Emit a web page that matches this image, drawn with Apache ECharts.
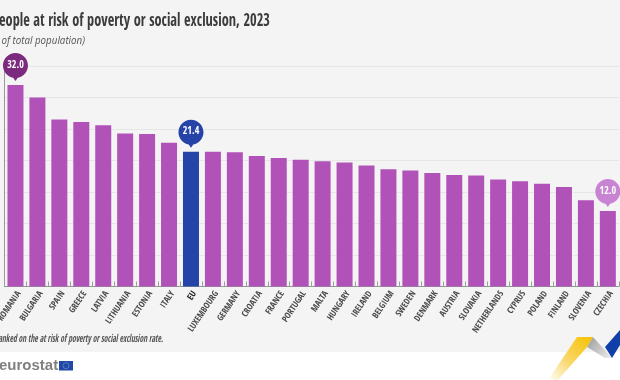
<!DOCTYPE html>
<html><head><meta charset="utf-8">
<style>html,body{margin:0;padding:0;background:#fff}#c{width:620px;height:380px}</style>
<script src="https://cdn.jsdelivr.net/npm/echarts@6/dist/echarts.min.js"></script></head>
<body><div id="c"></div>
<script>
const categories=['ROMANIA','BULGARIA','SPAIN','GREECE','LATVIA','LITHUANIA','ESTONIA','ITALY','EU','LUXEMBOURG','GERMANY','CROATIA','FRANCE','PORTUGAL','MALTA','HUNGARY','IRELAND','BELGIUM','SWEDEN','DENMARK','AUSTRIA','SLOVAKIA','NETHERLANDS','CYPRUS','POLAND','FINLAND','SLOVENIA','CZECHIA'];
const values=[32.0,30.0,26.5,26.1,25.6,24.3,24.2,22.8,21.4,21.4,21.3,20.7,20.4,20.1,19.9,19.7,19.2,18.6,18.4,18.0,17.7,17.6,17.0,16.7,16.3,15.8,13.7,12.0];
const highlightCategory='EU';
const pinned=[['ROMANIA',32.0,'#7b2a7e'],['EU',21.4,'#2644a7'],['CZECHIA',12.0,'#c883d2']];
const FN='"Open Sans Condensed","Roboto Condensed",sans-serif';
const pinPath='path://M12.5 0C5.6 0 0 5.6 0 12.5C0 18.6 4.4 23.7 10.2 24.8L12.5 28L14.8 24.8C20.6 23.7 25 18.6 25 12.5C25 5.6 19.4 0 12.5 0Z';
const chart=echarts.init(document.getElementById('c'),null,{renderer:'canvas'});
chart.setOption({
 animation:false,
 backgroundColor:'#ffffff',
 textStyle:{fontFamily:FN},
 grid:{left:4.5,top:66,width:614.3,height:220.5,containLabel:false,outerBoundsMode:'none'},
 xAxis:{type:'category',data:categories,
  axisLine:{show:true,lineStyle:{color:'#8f9a8f',width:1}},
  axisTick:{show:true,inside:true,length:5,alignWithLabel:false,lineStyle:{color:'#9aa09a'}},
  axisLabel:{interval:0,rotate:56,margin:3,fontSize:8.8,color:'#4a4a4a',fontFamily:FN,verticalAlign:'top',
   formatter:v=>v===highlightCategory?'{b|'+v+'}':v,
   rich:{b:{fontWeight:'bold',fontSize:9,color:'#222',fontFamily:FN}}},
 },
 yAxis:{type:'value',min:0,max:35,interval:5,
  axisLine:{show:true,lineStyle:{color:'#9a9a9a',width:1}},axisTick:{show:false},axisLabel:{show:false},
  splitLine:{show:true,lineStyle:{color:'#e6e6e6',width:1}}},
 series:[{type:'bar',barWidth:16,
  data:values.map((v,i)=>({value:v,itemStyle:{color:categories[i]===highlightCategory?'#2644a7':'#b152b9'}})),
  markPoint:{silent:true,symbol:pinPath,symbolSize:[25,28],symbolKeepAspect:false,
   symbolOffset:[0,'-64%'],
   data:pinned.map(p=>({coord:[p[0],p[1]],value:p[1].toFixed(1),itemStyle:{color:p[2]},
     label:{show:true,position:'inside',offset:[0,-2],formatter:p[1].toFixed(1),color:'#fff',fontSize:10,fontWeight:'bold',fontFamily:FN}}))}
 }],
 graphic:{elements:[
  {type:'rect',z:-10,shape:{x:0,y:0,width:620,height:352},style:{fill:'#f4f4f4'}},
  {type:'text',z:5,x:270,y:21,scaleX:0.775,style:{text:'People at risk of poverty or social exclusion, 2023',align:'right',verticalAlign:'middle',font:'bold 18.5px '+FN,fill:'#3c3c3c'}},
  {type:'text',z:5,x:85,y:41,scaleX:0.85,style:{text:'(% of total population)',align:'right',verticalAlign:'middle',font:'italic 11.5px "Open Sans",sans-serif',fill:'#555'}},
  {type:'text',z:5,x:163,y:339,scaleX:0.69,style:{text:'Countries ranked on the at risk of poverty or social exclusion rate.',align:'right',verticalAlign:'middle',font:'italic 300 11px '+FN,fill:'#555'}},
  {type:'text',z:5,x:-1,y:366,style:{text:'eurostat',align:'left',verticalAlign:'middle',font:'bold 15px "Liberation Sans",sans-serif',fill:'#808080'}},
  {type:'rect',z:5,shape:{x:59,y:361,width:14,height:9.5},style:{fill:'#1f48a8'}},
  {type:'circle',z:6,shape:{cx:66,cy:365.7,r:3},style:{fill:'none',stroke:'#6d83b8',lineWidth:0.8}},
  {type:'polygon',z:5,shape:{points:[[577,337],[593,337],[587,347],[558,380],[548,380]]},style:{fill:{type:'linear',x:1,y:0,x2:0,y2:1,colorStops:[{offset:0,color:'#f6c200'},{offset:0.55,color:'#f9d668'},{offset:1,color:'#ffffff'}]}}},
  {type:'polygon',z:5,shape:{points:[[593,337],[612,358],[605,358],[587,347]]},style:{fill:{type:'linear',x:0,y:0,x2:1,y2:1,colorStops:[{offset:0,color:'#9a9a9a'},{offset:1,color:'#eeeeee'}]}}},
  {type:'polygon',z:5,shape:{points:[[605,347],[620,330],[620,345],[612,358]]},style:{fill:'#0f3fa8'}}
 ]}
});
</script></body></html>
